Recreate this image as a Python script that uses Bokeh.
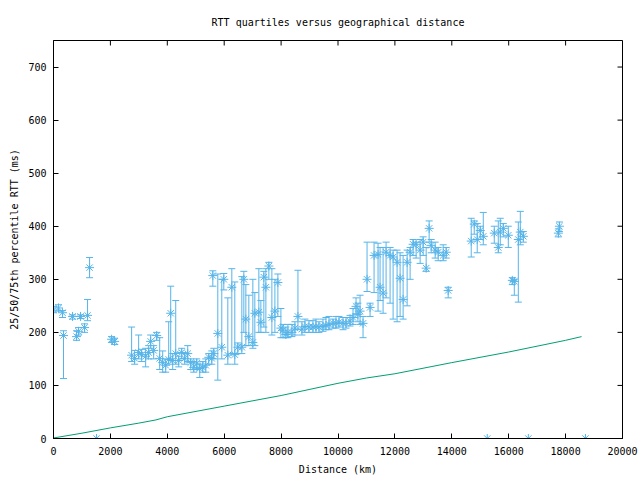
import math
from bokeh.plotting import figure
from bokeh.models import Range1d, FixedTicker, ColumnDataSource
from bokeh.embed import file_html
from bokeh.resources import INLINE

# ---- data ----
distance_km = [0, 176, 317, 352, 669, 810, 880, 951, 1092, 1197, 1268, 1514, 2042, 2148,
               2746, 2852, 2993, 3099, 3239, 3345, 3415, 3521, 3627, 3732, 3838, 3944, 4049, 4120,
               4190, 4296, 4401, 4507, 4613, 4718, 4824, 4930, 5035, 5141, 5246, 5352, 5458, 5563,
               5600, 5634, 5775, 5915, 5986, 6127, 6268, 6373, 6479, 6620, 6690, 6761, 6866, 7007,
               7077, 7218, 7289, 7394, 7465, 7570, 7676, 7782, 7887, 7993,
               8063, 8169, 8239, 8380, 8486, 8592, 8732, 8838, 8979, 9120, 9225, 9331, 9472, 9577,
               9683, 9824, 9930, 10035, 10176, 10282, 10423, 10528, 10634, 10700, 10775, 10880,
               11021, 11127, 11268, 11408, 11479, 11585, 11690, 11831, 11937, 12077, 12183, 12289,
               12430, 12535, 12641, 12746, 12887, 12993, 13099, 13204, 13275, 13415, 13521, 13697,
               13803, 13873,
               14683, 14789, 14894, 15000, 15106, 15246, 15493, 15634, 15704, 15810, 15986, 16127,
               16197, 16338, 16408, 16514, 16690, 17746, 17782, 18697]
median_ms = [242, 246, 237, 194, 230, 192, 202, 230, 209, 232, 322, 0, 187, 183,
             157, 151, 162, 158, 155, 162, 183, 166, 194, 151, 143, 138, 149, 236,
             147, 160, 147, 162, 151, 160, 143, 134, 142, 132, 134, 138, 153, 151,
             307, 160, 198, 172, 300, 157, 285, 158, 172, 172, 300, 225, 192, 181,
             236, 238, 219, 304, 285, 325, 228, 240, 294, 208,
             204, 196, 200, 200, 208, 230, 206, 211, 210, 210, 211, 210, 211, 213,
             215, 217, 217, 219, 217, 217, 221, 228, 249, 234, 240, 217,
             300, 247, 345, 347, 285, 274, 351, 345, 342, 332, 302, 262,
             332, 351, 366, 366, 355, 370, 321, 396, 364, 355, 351, 345,
             351, 279,
             372, 404, 375, 392, 381, 0, 387, 360, 389, 396, 383, 298,
             296, 375, 389, 381, 0, 387, 400, 0]
q25_ms = [237, 240, 228, 113, 225, 185, 195, 226, 200, 222, 303, 0, 181, 177,
          145, 140, 150, 145, 135, 150, 170, 150, 185, 130, 125, 125, 140, 150,
          130, 140, 135, 150, 140, 145, 130, 125, 130, 115, 125, 125, 140, 140,
          287, 150, 110, 150, 280, 140, 160, 140, 160, 160, 200, 175, 175, 170,
          175, 200, 200, 210, 200, 300, 195, 200, 230, 190,
          190, 190, 190, 192, 195, 205, 195, 200, 200, 200, 200, 200, 202, 205,
          205, 208, 208, 210, 205, 208, 212, 215, 235, 220, 215, 190,
          277, 230, 275, 240, 260, 236, 265, 255, 225, 220, 230, 225,
          250, 300, 345, 340, 330, 345, 315, 370, 350, 340, 335, 335,
          340, 265,
          342, 385, 350, 375, 365, 0, 368, 350, 365, 380, 360, 290,
          270, 257, 365, 370, 0, 380, 390, 0]
q75_ms = [249, 252, 241, 203, 233, 203, 209, 233, 216, 262, 341, 0, 192, 189,
          210, 166, 195, 168, 170, 175, 195, 175, 200, 190, 165, 150, 220, 287,
          160, 260, 155, 170, 160, 175, 150, 145, 150, 140, 145, 150, 160, 165,
          316, 170, 310, 300, 311, 265, 320, 295, 180, 305, 315, 290, 270, 300,
          275, 320, 260, 315, 320, 332, 320, 300, 310, 245,
          215, 210, 215, 215, 220, 317, 220, 225, 222, 222, 225, 220, 225, 228,
          230, 225, 230, 230, 228, 228, 232, 245, 265, 255, 270, 230,
          370, 255, 370, 368, 360, 360, 370, 360, 355, 355, 350, 345,
          355, 360, 375, 370, 375, 380, 360, 410, 375, 370, 360, 365,
          360, 285,
          415, 410, 405, 400, 426, 0, 400, 410, 415, 405, 400, 303,
          300, 408, 428, 390, 0, 395, 408, 0]

bound_distance_km = [0, 1000, 2000, 3000, 3600, 4000, 6000, 8000, 10000, 11000, 12000,
                     14000, 16000, 18000, 18560]
bound_rtt_ms = [1, 10, 20, 29, 35, 41, 61, 81, 104, 114, 122, 143, 163, 185, 192]

x_ticks = [0, 2000, 4000, 6000, 8000, 10000, 12000, 14000, 16000, 18000, 20000]
y_ticks = [0, 100, 200, 300, 400, 500, 600, 700]
x_max = 20000
y_max = 750

BLUE = "#56b4e9"
GREEN = "#009e73"
FONT = "DejaVu Sans Mono"

src = ColumnDataSource(dict(x=distance_km, med=median_ms, lo=q25_ms, hi=q75_ms))

p = figure(frame_width=569, frame_height=398, output_backend="svg", toolbar_location=None,
           x_range=Range1d(0, x_max), y_range=Range1d(0, y_max),
           min_border_left=53, min_border_right=16, min_border_top=40, min_border_bottom=40,
           title="RTT quartiles versus geographical distance")

p.title.align = "center"
p.title.text_font = FONT
p.title.text_font_size = "10px"
p.title.text_font_style = "normal"
p.title.text_color = "black"
p.title.padding = 8

p.xgrid.visible = False
p.ygrid.visible = False
p.outline_line_color = "black"
p.outline_line_width = 1
p.background_fill_color = "white"
p.border_fill_color = "white"

for ax, ticks in ((p.xaxis[0], x_ticks), (p.yaxis[0], y_ticks)):
    ax.ticker = FixedTicker(ticks=ticks)
    ax.major_tick_in = 5
    ax.major_tick_out = 0
    ax.minor_tick_in = 0
    ax.minor_tick_out = 0
    ax.axis_line_color = "black"
    ax.major_tick_line_color = "black"
    ax.major_label_text_font = FONT
    ax.major_label_text_font_size = "10px"
    ax.major_label_text_color = "black"
    ax.axis_label_text_font = FONT
    ax.axis_label_text_font_size = "10px"
    ax.axis_label_text_font_style = "normal"
    ax.axis_label_text_color = "black"

p.xaxis.axis_label = "Distance (km)"
p.yaxis.axis_label = "25/50/75th percentile RTT (ms)"
p.xaxis.major_label_standoff = 8
p.xaxis.axis_label_standoff = 6
p.yaxis.major_label_standoff = 7
p.yaxis.axis_label_standoff = 5

# mirrored ticks on the top and right frame edges (half clipped by the frame)
p.scatter(x=x_ticks, y=[y_max] * len(x_ticks), marker="dash", angle=math.pi / 2,
          size=10, line_color="black", line_width=1)
p.scatter(x=[x_max] * len(y_ticks), y=y_ticks, marker="dash",
          size=10, line_color="black", line_width=1)

# lower bound line
p.line(bound_distance_km, bound_rtt_ms, line_color=GREEN, line_width=1)

# error bars
p.segment(x0="x", y0="lo", x1="x", y1="hi", source=src, line_color=BLUE, line_width=1)
p.scatter(x="x", y="lo", source=src, marker="dash", size=7, line_color=BLUE, line_width=1)
p.scatter(x="x", y="hi", source=src, marker="dash", size=7, line_color=BLUE, line_width=1)
# medians
p.scatter(x="x", y="med", source=src, marker="asterisk", size=9, line_color=BLUE, line_width=1)

open("out.html", "w").write(file_html(p, INLINE))
